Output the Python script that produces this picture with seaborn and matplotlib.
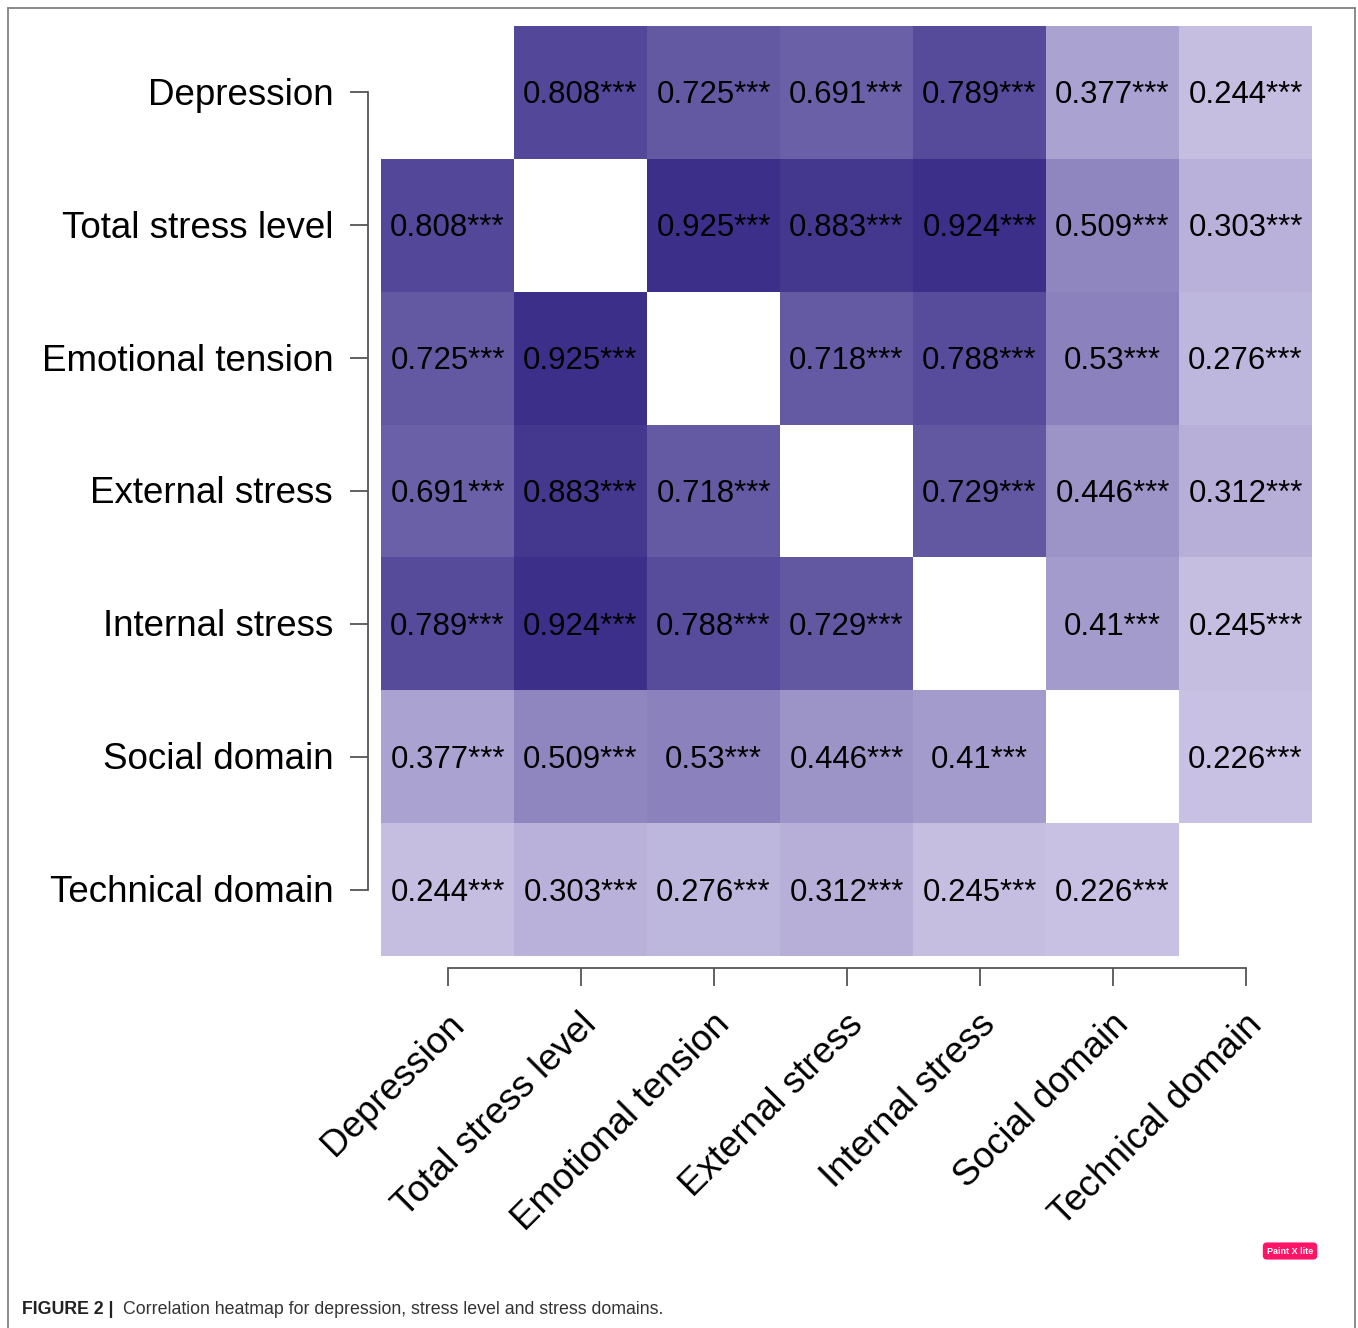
import numpy as np
import pandas as pd
import matplotlib
matplotlib.use("Agg")
import matplotlib.pyplot as plt
import matplotlib.transforms as mtransforms
from matplotlib.colors import LinearSegmentedColormap
from matplotlib.lines import Line2D
import seaborn as sns

# variable names (rows and columns)
labels = ["Depression", "Total stress level", "Emotional tension",
          "External stress", "Internal stress", "Social domain",
          "Technical domain"]

# correlation rows (diagonal left blank)
depression   = [1, 0.808, 0.725, 0.691, 0.789, 0.377, 0.244]
total_stress = [0.808, 1, 0.925, 0.883, 0.924, 0.509, 0.303]
emotional    = [0.725, 0.925, 1, 0.718, 0.788, 0.53, 0.276]
external     = [0.691, 0.883, 0.718, 1, 0.729, 0.446, 0.312]
internal     = [0.789, 0.924, 0.788, 0.729, 1, 0.41, 0.245]
social       = [0.377, 0.509, 0.53, 0.446, 0.41, 1, 0.226]
technical    = [0.244, 0.303, 0.276, 0.312, 0.245, 0.226, 1]
signif = "***"

corr = pd.DataFrame([depression, total_stress, emotional, external,
                     internal, social, technical],
                    index=labels, columns=labels)
annot = corr.map(lambda v: f"{v:g}{signif}")
mask = np.eye(len(labels), dtype=bool)

sns.set_style("white")
plt.rcParams['font.family'] = ['Liberation Sans', 'DejaVu Sans']

cmap = LinearSegmentedColormap.from_list("purp", ["#c8c1e3", "#3b2f89"])

W, H = 1358, 1328
fig = plt.figure(figsize=(W / 100, H / 100), dpi=100)
ax = fig.add_axes([381 / W, 1 - 956 / H, 931 / W, 930 / H])

sns.heatmap(corr, mask=mask, cmap=cmap, vmin=0.226, vmax=0.925,
            annot=annot, fmt="", cbar=False,
            annot_kws={"size": 22.4, "color": "black"}, ax=ax)

axcol = "#555555"
for side, off in [("left", 9.4), ("bottom", 8.6)]:
    sp = ax.spines[side]
    sp.set_visible(True)
    sp.set_position(("outward", off))
    sp.set_bounds(0.5, 6.5)
    sp.set_color(axcol)
    sp.set_linewidth(1.3)

ax.tick_params(axis="both", length=13, width=1.3, color=axcol,
               labelsize=26.5, labelcolor="black")
ax.tick_params(axis="y", left=True, pad=12)
ax.tick_params(axis="x", bottom=True, pad=24)
ax.set_yticklabels(labels, rotation=0, va="center")
ax.set_xticklabels(labels, rotation=45, ha="right", va="center",
                   rotation_mode="anchor")

# small nudges so text sits where it does in the original
down = mtransforms.ScaledTranslation(0, -3 / 100, fig.dpi_scale_trans)
right = mtransforms.ScaledTranslation(11 / 100, 0, fig.dpi_scale_trans)
for t in ax.texts:
    t.set_transform(t.get_transform() + down)
for t in ax.get_yticklabels():
    t.set_transform(t.get_transform() + down)
for t in ax.get_xticklabels():
    t.set_transform(t.get_transform() + right)
ax.set_xlabel("")
ax.set_ylabel("")

# page frame
frame = dict(color="#777777", lw=1.2, transform=fig.transFigure)
fig.add_artist(Line2D([8 / W, 8 / W], [0, 1 - 8 / H], **frame))
fig.add_artist(Line2D([8 / W, 1355 / W], [1 - 8 / H, 1 - 8 / H], **frame))
fig.add_artist(Line2D([1355 / W, 1355 / W], [0, 1 - 8 / H], **frame))

# caption
fig.text(22 / W, 1 - 1310 / H, "FIGURE 2 |", weight="bold", size=12.8,
         color="#222222", va="center")
fig.text(123 / W, 1 - 1310 / H,
         "Correlation heatmap for depression, stress level and stress domains.",
         size=12.8, color="#333333", va="center")

# watermark
fig.text(1290 / W, 1 - 1251 / H, "Paint X lite", size=6.5, weight="bold",
         color="white", ha="center", va="center",
         bbox=dict(boxstyle="round,pad=0.45", fc="#ff1466", ec="none"))

fig.savefig("out.png", dpi=100)
